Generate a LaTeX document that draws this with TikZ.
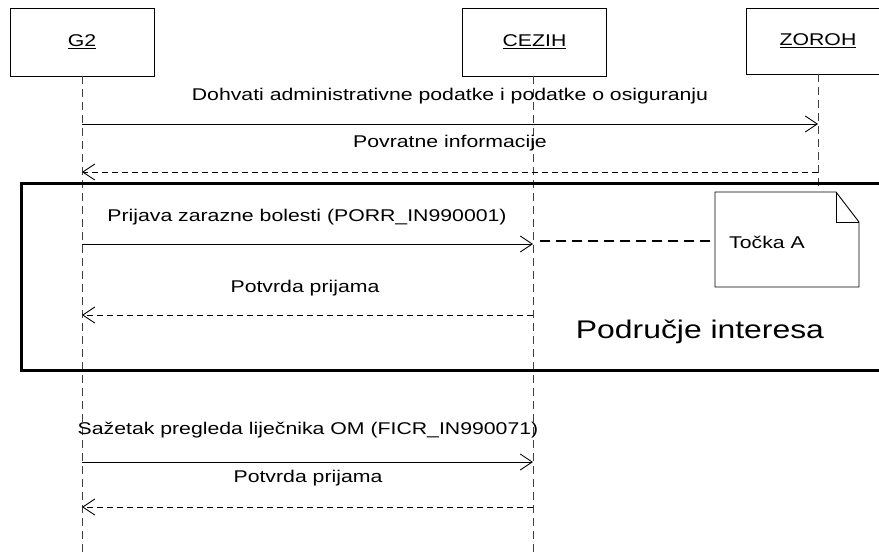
\documentclass[tikz,border=0pt]{standalone}
\usepackage{fontspec}
\setmainfont{Liberation Sans}[FakeStretch=1.25]
\usetikzlibrary{arrows.meta}
\begin{document}
\begin{tikzpicture}[x=1pt,y=-1pt,
  every node/.style={font=\fontsize{17}{20}\selectfont, inner sep=0pt},
  actor/.style={draw, line width=0.9pt, minimum width=144pt, minimum height=68pt, fill=white},
  lifeline/.style={draw=black!75, line width=0.9pt, dash pattern=on 8pt off 5pt},
  msg/.style={line width=0.9pt, -{Straight Barb[length=12pt,width=16pt,line width=0.9pt]}},
  ret/.style={msg, dash pattern=on 6pt off 4pt},
  lbl/.style={anchor=center},
  frame/.style={draw, line width=3pt},
  notelink/.style={line width=1.5pt, dash pattern=on 10pt off 6pt}
]
\useasboundingbox (0,0) rectangle (879,554);
% actors
\node[actor] (g2) at (82,42) {\underline{G2}};
\node[actor] (cezih) at (534.5,42) {\underline{CEZIH}};
\node[actor, minimum height=66pt] (zoroh) at (818,41) {\underline{ZOROH}};
% lifelines
\coordinate (g2end) at (82,554);
\coordinate (cezihend) at (533,554);
\coordinate (zorohend) at (818,190);
\draw[lifeline] (g2.south) -- (g2end);
\draw[lifeline] (cezih.south -| cezihend) -- (cezihend);
\draw[lifeline] (zoroh.south) -- (zorohend);
% frame
\draw[frame] (21,183) rectangle (895,370);
% message coordinates
\coordinate (a1) at (82,124); \coordinate (b1) at (818,124);
\coordinate (a2) at (82,172); \coordinate (b2) at (818,172);
\coordinate (a3) at (82,244); \coordinate (b3) at (533,244);
\coordinate (a4) at (82,315); \coordinate (b4) at (533,315);
\coordinate (a5) at (82,462); \coordinate (b5) at (533,462);
\coordinate (a6) at (82,507); \coordinate (b6) at (533,507);
\draw[msg] (a1) -- (b1);
\draw[ret] (b2) -- (a2);
\draw[msg] (a3) -- (b3);
\draw[ret] (b4) -- (a4);
\draw[msg] (a5) -- (b5);
\draw[ret] (b6) -- (a6);
% labels
\node[lbl] (l1) at (450,96) {Dohvati administrativne podatke i podatke o osiguranju};
\node[lbl] (l2) at (450,143) {Povratne informacije};
\node[lbl] (l3) at (307,217) {Prijava zarazne bolesti (PORR\_IN990001)};
\node[lbl] (l4) at (305,288) {Potvrda prijama};
\node[lbl] (l5) at (308,430) {Sažetak pregleda liječnika OM (FICR\_IN990071)};
\node[lbl] (l6) at (308,478) {Potvrda prijama};
\node[lbl, font=\fontsize{25.5}{30}\selectfont] (area) at (700,332) {Područje interesa};
% note
\draw[line width=0.9pt, fill=white] (715,192) -- (836,192) -- (859,222) -- (859,287) -- (715,287) -- cycle;
\draw[line width=0.9pt] (836,192) -- (836,222) -- (859,222);
\node[anchor=west] (note) at (729,242) {Točka A};
\coordinate (notel) at (715,241);
\coordinate (cz3) at (540,241);
\draw[notelink] (cz3) -- (notel);
\end{tikzpicture}
\end{document}
